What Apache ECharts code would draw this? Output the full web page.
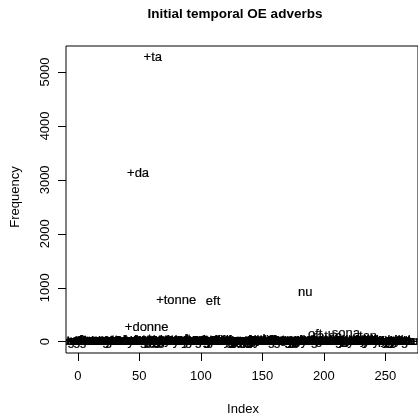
<!DOCTYPE html>
<html>
<head>
<meta charset="utf-8">
<script src="https://cdn.jsdelivr.net/npm/echarts@6/dist/echarts.min.js"></script>
<style>
  html, body { margin: 0; padding: 0; background: #fff; }
  #chart { width: 418px; height: 417px; }
</style>
</head>
<body>
<div id="chart"></div>
<script>
// Initial temporal adverbs (Old English), "+t" = thorn, "+d" = eth, "+a" = ash.
// Each word is drawn at its index along x and its frequency along y.
const words = [
  "+afre","+afren","+after","+aftan","+aftor","+agder","+aghwanne","+agnunga","+ahwar","+ana",
  "+anes","+ane","+anne","+ar","+ara","+ardan","+arddan","+arest","+arist","+arost",
  "+arust","+aror","+arur","+arra","+arran","+artan","+arton","+ardon","+aron","+atforan",
  "+atgadere","+aten","+atsomne","+awa","+awe","+aw","+afentid","+afen","+afenne","+alces",
  "+alcne","+alcedag","+ar+ton","+ar+tan","+arest+ta","+ared","+arnemergen","+arnemorgen",
  "+da","+dagiet","+dagit","+dagyt","+danan","+danne","+danon","+donne","+donon","+dyder","+dyderweard","+dy",
  "+ta","+tagiet","+tagit","+tagyt","+tanan","+tanc","+tanne","+tanon","+tar","+tarrihte",
  "+tas","+tasne","+te","+tenden","+ter","+terrihte","+tider","+tiderweard","+to","+tonne",
  "+tonan","+tonon","+tyder","+ty","+tys",
  "a","aa","abutan","adun","afre","after","aftan","agen","ana","anes","anunga","ar","arest","aror","awa",
  "beforan","betwux","bufan","dages","dagtidum","dogor","dogora","ece","ecelice","eft",
  "efne","eftsona","eftsone","eftsones","endemes","ende","ealne","ealneg","ealneweg","ealle",
  "facne","feor","forht","forma","forman","forrest","forte","fore","foran","forst",
  "fyrn","fyrst","fyrmest","gear","geara","gearo","geo","geofer","geond","geostra",
  "geostran","giet","gieta","gio","git","gyt","gyta","gystran","gyrstan","gyrstandag",
  "hrad","hrade","hrate","hradlice","hwile","hwilum","hwonne","hwanne","hwenne","iu",
  "iuwe","ingang","lange","lang","langsum","late","lator","latost","last","leng",
  "lengest","longe","lyt","mergen","morgen","micle","mid","middag","nalas","nafre",
  "neah","neahst","niht","niwan",
  "nu","nuda","nuta","nyhst","ne","nefre","niwe","nean",
  "oft","oftor","oftost","oftradlice","on","onforan","ongean","ord",
  "ra","rade","rathe","rad","rihte","rum","samod","sam","sel","sid",
  "sidor","sidost","sin","singal","singales","sine","sodlice","sona",
  "sonan","sone","sones","sum","symbel","symble","symle","syddan","siddan","sydan",
  "syddon","siddon","sy","sylf","swa","swide","swylce",
  "tan","teoda","tid","tide","tidum","til","to","todag","todage","toniht","tomorgen","twiwa",
  "ufan","ufor","uppe","ut","wel","wenunga","wintra","wide","wiste","wyrd",
  "ymb","ymbe","ymbutan","yrn","yfel","yldo","yld","ylce","ytemest"
];

const freq = [
  24, 3, 28, 12, 6, 2, 9, 15, 4, 22,
  18, 7, 11, 30, 5, 2, 8, 18, 3, 14,
  6, 19, 4, 10, 3, 21, 24, 9, 5, 12,
  2, 7, 4, 25, 13, 6, 3, 22, 8, 16,
  5, 2, 20, 11, 4, 7, 3, 9,
  3120, 12, 5, 17, 8, 29, 20, 260, 15, 6, 2, 19,
  5270, 23, 7, 21, 14, 3, 38, 19, 28, 6,
  11, 4, 25, 9, 32, 5, 23, 2, 13, 770,
  16, 21, 8, 3, 10,
  25, 6, 14, 4, 20, 34, 8, 3, 18, 11, 5, 42, 22, 9, 18,
  7, 3, 12, 15, 4, 6, 2, 20, 9, 750,
  13, 30, 7, 3, 5, 10, 24, 24, 8, 16,
  2, 19, 4, 18, 11, 3, 8, 14, 22, 5,
  9, 21, 6, 12, 27, 3, 18, 2, 25, 7,
  4, 22, 10, 15, 21, 38, 6, 3, 11, 2,
  8, 18, 14, 5, 20, 31, 19, 7, 3, 12,
  4, 2, 36, 9, 6, 17, 3, 5, 11, 23,
  8, 25, 13, 4, 20, 15, 7, 3, 10, 18,
  6, 9, 18, 4,
  910, 12, 21, 5, 23, 8, 3, 15,
  140, 22, 9, 4, 30, 7, 19, 3,
  11, 17, 105, 6, 24, 2, 13, 5, 8, 19,
  6, 3, 14, 24, 9, 4, 21, 160,
  12, 19, 7, 15, 5, 22, 33, 20, 11, 6,
  25, 8, 3, 17, 40, 10, 4,
  95, 7, 22, 13, 5, 18, 26, 4, 9, 2, 14, 6,
  11, 3, 18, 8, 19, 4, 12, 20, 6, 15,
  3, 21, 7, 29, 9, 5, 16, 2, 10
];

const xTicks = [0, 50, 100, 150, 200, 250];
const yTicks = [0, 1000, 2000, 3000, 4000, 5000];

const FONT = '"Liberation Sans", Arial, Helvetica, sans-serif';

// Axis ranges padded by 4% on each side
const n = freq.length;
const xPad = 0.04 * (n - 1);
const fMin = Math.min(...freq), fMax = Math.max(...freq);
const yPad = 0.04 * (fMax - fMin);

const points = freq.map((v, i) => [i + 1, v]);

const chart = echarts.init(document.getElementById('chart'), null, { renderer: 'canvas' });

const tickStyle = { color: '#000', width: 1 };

chart.setOption({
  backgroundColor: '#ffffff',
  animation: false,
  grid: {
    left: 66, top: 46, right: -6.3, height: 307,
    show: true, borderColor: '#000', borderWidth: 1, backgroundColor: 'transparent'
  },
  xAxis: {
    type: 'value',
    min: 1 - xPad, max: n + xPad,
    axisLine: { show: false, onZero: false },
    splitLine: { show: false },
    axisTick: { show: true, inside: false, length: 8, customValues: xTicks, lineStyle: tickStyle },
    axisLabel: { show: true, margin: 17, customValues: xTicks,
                 formatter: v => String(v),
                 color: '#000', fontSize: 13, fontFamily: FONT }
  },
  yAxis: {
    type: 'value',
    min: fMin - yPad, max: fMax + yPad,
    axisLine: { show: false, onZero: false },
    splitLine: { show: false },
    axisTick: { show: true, inside: false, length: 8, customValues: yTicks, lineStyle: tickStyle },
    axisLabel: { show: true, rotate: 90, margin: 14, customValues: yTicks,
                 formatter: v => String(v),
                 color: '#000', fontSize: 13, fontFamily: FONT }
  },
  series: [{
    type: 'custom',
    clip: true,
    data: points,
    encode: { x: 0, y: 1 },
    renderItem: function (params, api) {
      const p = api.coord([api.value(0), api.value(1)]);
      return {
        type: 'text',
        x: p[0], y: p[1],
        style: {
          text: words[params.dataIndex],
          fill: '#000',
          stroke: '#000',
          lineWidth: 0.2,
          fontSize: 13,
          fontFamily: FONT,
          align: 'center',
          verticalAlign: 'middle'
        }
      };
    }
  }],
  graphic: [
    { type: 'text', x: 235, y: 14,
      style: { text: 'Initial temporal OE adverbs', fill: '#000', fontSize: 13.5,
               fontWeight: 'bold', fontFamily: FONT, align: 'center', verticalAlign: 'middle' } },
    { type: 'text', x: 243, y: 409,
      style: { text: 'Index', fill: '#000', fontSize: 13, fontFamily: FONT,
               align: 'center', verticalAlign: 'middle' } },
    { type: 'text', x: 15, y: 197, rotation: Math.PI / 2,
      style: { text: 'Frequency', fill: '#000', fontSize: 13, fontFamily: FONT,
               align: 'center', verticalAlign: 'middle' } }
  ]
});
</script>
</body>
</html>
